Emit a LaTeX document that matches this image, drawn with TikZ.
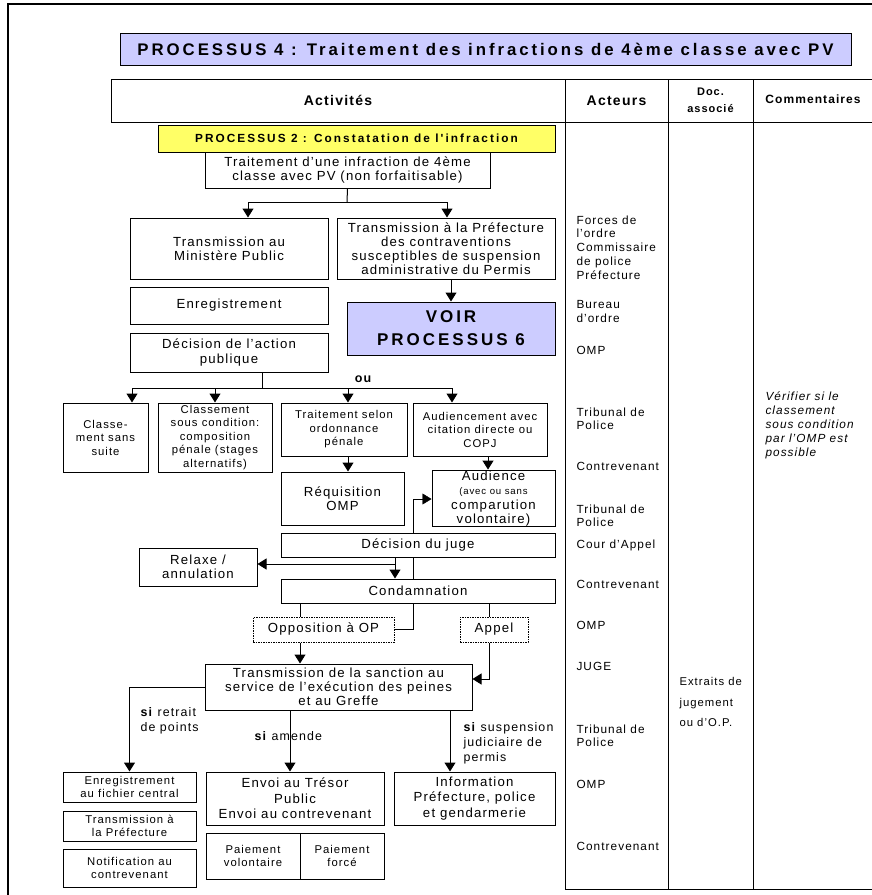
\documentclass[tikz,border=0pt]{standalone}
\usepackage{fontspec}
\setmainfont{Liberation Sans}[LetterSpace=9]
\newfontfamily\titrefont{Liberation Sans}[LetterSpace=17.5]
\usetikzlibrary{arrows.meta,backgrounds}
\definecolor{lavande}{RGB}{204,204,255}
\definecolor{jaune}{RGB}{255,255,102}

\begin{document}
\begin{tikzpicture}[x=1pt,y=-1pt,line width=1pt,
    box/.style={draw,fill=white,inner sep=1pt,align=center,font=\fontsize{13.2}{14.2}\selectfont},
    petit/.style={box,font=\fontsize{11.3}{13.5}\selectfont},
    option/.style={box,dash pattern=on 1.5pt off 1pt},
    entete/.style={draw,inner sep=1pt,align=center,font=\bfseries\fontsize{14}{16}\selectfont},
    fleche/.style={-{Triangle[length=9pt,width=11pt]}},
    colonne/.style={anchor=north west,inner sep=0pt,align=left,font=\fontsize{11.8}{13.75}\selectfont},
    etiquette/.style={anchor=north west,inner sep=0pt,align=left,font=\fontsize{12.4}{15}\selectfont}]
  \useasboundingbox (0,0) rectangle (872,895);
  \draw[line width=2.5pt] (8,896) -- (8,4) -- (874,4); % cadre

  % titre et en-tete du tableau
  \node[draw,fill=lavande,minimum width=731pt,minimum height=32pt,font=\titrefont\bfseries\fontsize{16.8}{18}\selectfont] (titre) at (485.5,49) {PROCESSUS 4 : Traitement des infractions de 4ème classe avec PV};
  \node[entete,minimum width=454pt,minimum height=43pt] (hAct) at (338,100.5) {Activités};
  \node[entete,minimum width=103pt,minimum height=43pt] (hActeurs) at (616.5,100.5) {Acteurs};
  \node[entete,minimum width=85pt,minimum height=43pt,font=\bfseries\fontsize{11}{16.5}\selectfont] (hDoc) at (710.5,100.5) {Doc.\\associé};
  \node[entete,minimum width=120pt,minimum height=43pt,font=\bfseries\fontsize{12}{14}\selectfont] (hCom) at (813,100.5) {\raisebox{3pt}{Commentaires}};
  \draw (565,122) rectangle (668,889); % acteurs
  \draw (668,122) rectangle (753,889); % doc
  \draw (753,122) rectangle (875,889); % commentaires

  % activites
  \node[box,fill=jaune,minimum width=397pt,minimum height=27pt,font=\titrefont\bfseries\fontsize{11.8}{14}\selectfont] (proc2) at (356.5,138.5) {PROCESSUS 2 : Constatation de l'infraction};
  \node[box,minimum width=285pt,minimum height=36pt] (traitement) at (347.5,170) {Traitement d'une infraction de 4ème\\classe avec PV (non forfaitisable)};
  \node[box,minimum width=198pt,minimum height=61pt] (transMP) at (229,248.5) {Transmission au\\Ministère Public};
  \node[box,minimum width=218pt,minimum height=61pt] (transPref) at (446,248.5) {Transmission à la Préfecture\\des contraventions\\susceptibles de suspension\\administrative du Permis};
  \node[box,minimum width=198pt,minimum height=37pt] (enreg) at (229,305.5) {Enregistrement};
  \node[box,fill=lavande,minimum width=208pt,minimum height=53pt,font=\titrefont\bfseries\fontsize{17}{23}\selectfont] (voir) at (451,328.5) {VOIR\\PROCESSUS 6};
  \node[box,minimum width=198pt,minimum height=39pt] (decision) at (229,352.5) {Décision de l'action\\publique};
  \node[petit,minimum width=85pt,minimum height=69pt] (classeSans) at (105.5,437.5) {Classe-\\ment sans\\suite};
  \node[petit,minimum width=114pt,minimum height=69pt] (classeCond) at (215,437.5) {Classement\\sous condition:\\composition\\pénale (stages\\alternatifs)};
  \node[petit,minimum width=126pt,minimum height=53pt] (ordonnance) at (344,429.5) {Traitement selon\\ordonnance\\pénale};
  \node[petit,minimum width=134pt,minimum height=53pt] (audiencement) at (480,429.5) {Audiencement  avec\\citation directe ou\\COPJ};
  \node[box,minimum width=123pt,minimum height=53pt] (requisition) at (342.5,498.5) {Réquisition\\OMP};
  \node[box,minimum width=123pt,minimum height=53pt] (audience) at (493.5,498.5) {Audience\\\fontsize{9.6}{12.5}\selectfont(avec ou sans\\comparution\\volontaire)};
  \node[box,minimum width=274pt,minimum height=24pt] (decJuge) at (418,545) {Décision du juge};
  \node[box,minimum width=118pt,minimum height=38pt] (relaxe) at (198,567) {Relaxe /\\annulation};
  \node[box,minimum width=274pt,minimum height=24pt] (condamnation) at (418,591) {Condamnation};
  \node[option,minimum width=141pt,minimum height=25pt] (opposition) at (323.5,629.5) {Opposition à OP};
  \node[option,minimum width=68pt,minimum height=25pt] (appel) at (494,629.5) {Appel};
  \node[box,minimum width=267pt,minimum height=46pt] (sanction) at (338.5,687) {Transmission de la sanction au\\service de l'exécution des peines\\et au Greffe};
  \node[petit,minimum width=133pt,minimum height=30pt] (fichier) at (129.5,787) {Enregistrement\\au fichier central};
  \node[petit,minimum width=133pt,minimum height=30pt] (transPrefBas) at (129.5,826) {Transmission à\\la Préfecture};
  \node[petit,minimum width=133pt,minimum height=38pt] (notification) at (129.5,868) {Notification au\\contrevenant};
  \node[box,minimum width=178pt,minimum height=53pt,font=\fontsize{13.2}{15.5}\selectfont] (tresor) at (295,798.5) {Envoi au Trésor\\Public\\Envoi au contrevenant};
  \node[petit,minimum width=94pt,minimum height=46pt] (volontaire) at (253,856) {Paiement\\volontaire};
  \node[petit,minimum width=84pt,minimum height=46pt] (force) at (342,856) {Paiement\\forcé};
  \node[box,minimum width=161pt,minimum height=53pt,font=\fontsize{13.2}{15.5}\selectfont] (information) at (474.5,798.5) {Information\\Préfecture, police\\et gendarmerie};

  % connecteurs
  \coordinate (f1) at (347,202);
  \coordinate (f1g) at (248,202);
  \coordinate (f1d) at (447,202);
  \draw (traitement.south) -- (f1);
  \draw (f1g) -- (f1d);
  \draw[fleche] (f1g) -- (f1g |- transMP.north);
  \draw[fleche] (f1d) -- (f1d |- transPref.north);
  \draw[fleche] (transPref.south -| voir.north) -- (voir.north);
  \coordinate (f2) at (262,388);
  \coordinate (f2a) at (132,388);
  \coordinate (f2c) at (348,388);
  \coordinate (f2d) at (452,388);
  \draw (f2 |- decision.south) -- (f2);
  \draw (f2a) -- (f2d);
  \draw[fleche] (f2a) -- (f2a |- classeSans.north);
  \draw[fleche] (f2 -| classeCond.north) -- (classeCond.north);
  \draw[fleche] (f2c) -- (f2c |- ordonnance.north);
  \draw[fleche] (f2d) -- (f2d |- audiencement.north);
  \node[font=\bfseries\fontsize{12.5}{14}\selectfont,inner sep=0pt] (ou) at (363,379) {ou};
  \draw[fleche] (f2c |- ordonnance.south) -- (f2c |- requisition.north); % ordonnance--requisition
  \coordinate (au) at (488,460);
  \draw[fleche] (au |- audiencement.south) -- (au |- audience.north); % audiencement--audience
  \coordinate (dj) at (395,564);
  \draw[fleche] (dj |- decJuge.south) -- (dj |- condamnation.north); % juge--condamnation
  \draw[fleche] (dj) -- (dj -| relaxe.east); % juge--relaxe
  \coordinate (boucle) at (413,499);
  \begin{scope}[on background layer]
    \draw[fleche] (opposition.east) -| (boucle) -- (boucle -| audience.west); % opposition--audience
  \end{scope}
  \coordinate (op) at (300,610);
  \coordinate (ap) at (489,610);
  \draw (op |- condamnation.south) -- (op |- opposition.north);
  \draw (ap |- condamnation.south) -- (ap |- appel.north);
  \draw[fleche] (op |- opposition.south) -- (op |- sanction.north); % opposition--sanction
  \coordinate (apb) at (489,679);
  \draw[fleche] (ap |- appel.south) -- (apb) -- (apb -| sanction.east); % appel--sanction
  \draw[fleche] (sanction.west) -| (fichier.north); % sanction--fichier
  \coordinate (am) at (290,740);
  \coordinate (su) at (450,740);
  \draw[fleche] (am |- sanction.south) -- (am |- tresor.north); % sanction--tresor
  \draw[fleche] (su |- sanction.south) -- (su |- information.north); % sanction--information
  \node[etiquette] (siRetrait) at (140,707) {\textbf{si} retrait\\de points};
  \node[etiquette] (siAmende) at (254,731) {\textbf{si} amende};
  \node[etiquette] (siSuspension) at (463,722) {\textbf{si} suspension\\judiciaire de\\permis};

  % acteurs
  \node[colonne] (a1) at (576,215) {Forces de\\l'ordre\\Commissaire\\de police\\Préfecture};
  \node[colonne] (a2) at (576,300) {Bureau\\d'ordre};
  \node[colonne] (a3) at (576,346) {OMP};
  \node[colonne] (a4) at (576,407) {Tribunal de\\Police};
  \node[colonne] (a5) at (576,462) {Contrevenant};
  \node[colonne] (a6) at (576,504) {Tribunal de\\Police};
  \node[colonne] (a7) at (576,539) {Cour d'Appel};
  \node[colonne] (a8) at (576,580) {Contrevenant};
  \node[colonne] (a9) at (576,621) {OMP};
  \node[colonne] (a10) at (576,662) {JUGE};
  \node[colonne] (a11) at (576,724) {Tribunal de\\Police};
  \node[colonne] (a12) at (576,780) {OMP};
  \node[colonne] (a13) at (576,842) {Contrevenant};

  % document et commentaire
  \node[colonne,font=\fontsize{11.3}{20.5}\selectfont] (doc) at (679,677) {Extraits de\\jugement\\ou d'O.P.};
  \node[colonne,font=\itshape\fontsize{11.8}{14}\selectfont] (com) at (765,391) {Vérifier si le\\classement\\sous condition\\par l'OMP est\\possible};
\end{tikzpicture}
\end{document}
